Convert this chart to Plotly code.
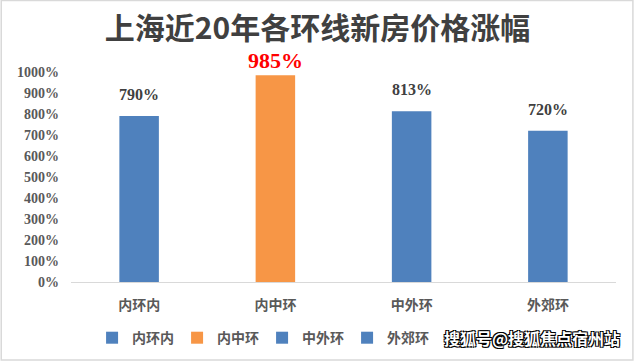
import plotly.graph_objects as go

categories = ["内环内", "内中环", "中外环", "外郊环"]
values = [790, 985, 813, 720]
colors = ["#4F81BD", "#F79646", "#4F81BD", "#4F81BD"]
label_colors = ["#404040", "#FF0000", "#404040", "#404040"]
label_sizes = [16, 22, 16, 16]
label_shift = [11, 0, 11, 11]
y_ticks = list(range(0, 1001, 100))
y_tick_text = [f"{v}%" for v in y_ticks]

CJK = "Noto Sans CJK SC"
SERIF = "Liberation Serif"

fig = go.Figure()
for c, v, col in zip(categories, values, colors):
    fig.add_trace(go.Bar(x=[c], y=[v], name=f"<b>{c}</b>", marker=dict(color=col, line=dict(width=0)),
                         width=0.29, hoverinfo="skip"))

for c, v, lc, ls, sh in zip(categories, values, label_colors, label_sizes, label_shift):
    fig.add_annotation(x=c, y=v, text=f"<b>{v}%</b>", showarrow=False, yanchor="bottom",
                       yshift=sh, font=dict(family=SERIF, size=ls, color=lc))

fig.add_annotation(xref="paper", yref="paper", x=1.011, y=-0.267, xanchor="right", yanchor="middle",
                   text="<b>搜狐号@搜狐焦点宿州站</b>", showarrow=False,
                   font=dict(family=CJK, size=16, color="white",
                             shadow="1px 1px 0 #000, -1px -1px 0 #000, 1px -1px 0 #000, -1px 1px 0 #000"))

# outer frame
fig.add_shape(type="rect", xref="paper", yref="paper", x0=-0.128, x1=1.031, y0=-0.372, y1=1.341,
              line=dict(color="#D9D9D9", width=1.5))

fig.update_layout(
    width=635, height=362,
    margin=dict(l=71, r=19, t=72, b=80, autoexpand=False),
    paper_bgcolor="white", plot_bgcolor="white",
    barmode="relative",
    title=dict(text="<b>上海近20年各环线新房价格涨幅</b>", x=0.5, xref="container", xanchor="center",
               y=0.92, yref="container", yanchor="middle",
               font=dict(family=CJK, size=30, color="#404040")),
    legend=dict(orientation="h", xref="container", x=0.145, xanchor="left",
                yref="container", y=0.066, yanchor="middle",
                font=dict(family=CJK, size=14, color="#595959"), itemwidth=30,
                entrywidth=40, entrywidthmode="pixels",
                traceorder="normal", bgcolor="rgba(0,0,0,0)"),
    showlegend=True,
)
fig.update_xaxes(showline=True, linecolor="#D9D9D9", linewidth=1, ticks="", showgrid=False,
                 tickfont=dict(family=CJK, size=14, color="#595959"),
                 ticklabelstandoff=10, automargin=False)
fig.update_yaxes(range=[0, 1000], tickvals=y_ticks, ticktext=[f"<b>{t}</b>" for t in y_tick_text],
                 showgrid=False, showline=False, zeroline=False, ticks="",
                 tickfont=dict(family=SERIF, size=14, color="#595959"), ticklabelstandoff=11,
                 automargin=False)
fig.update_xaxes(ticktext=[f"<b>{c}</b>" for c in categories], tickvals=categories)

fig.write_html("out.html", config={"displayModeBar": False},
               post_script="document.body.style.margin='0px';document.body.style.padding='0px';")
